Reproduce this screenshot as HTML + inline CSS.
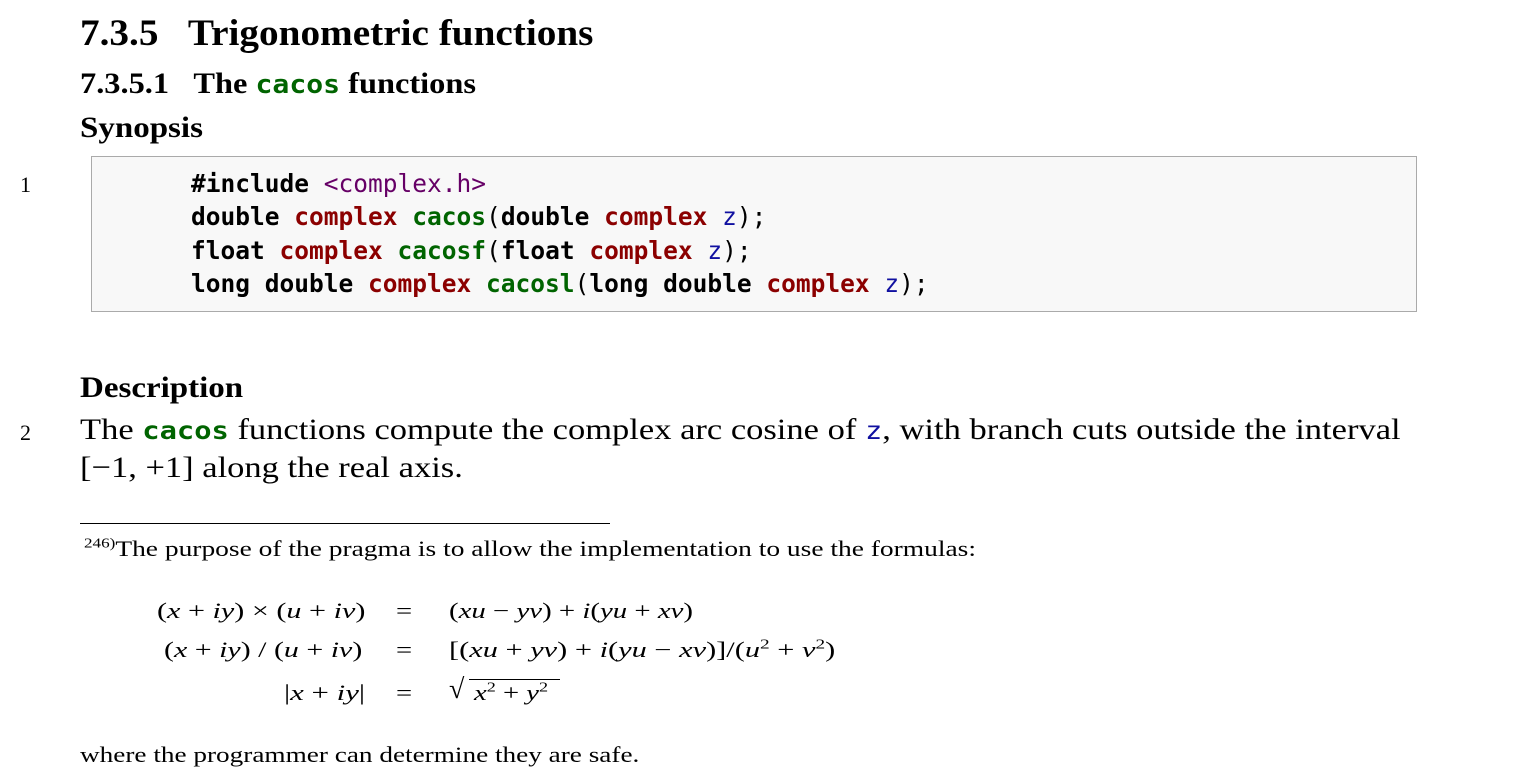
<!DOCTYPE html>
<html><head><meta charset="utf-8"><style>
body{margin:0;width:1519px;height:784px;background:#fff;position:relative;overflow:hidden;font-family:"Liberation Serif",serif;color:#000}
.a{position:absolute;white-space:nowrap;transform-origin:0 0}
.m{font-family:"DejaVu Sans Mono","Liberation Mono",monospace}
.code{position:absolute;left:91px;top:156px;width:1324px;height:154px;background:#f8f8f8;border:1px solid #aaa}
.code div{position:absolute;left:99px;font-family:"DejaVu Sans Mono",monospace;font-weight:bold;font-size:24.5px}
.r{color:#8b0000}.g{color:#006400}.p{color:#660066;font-weight:normal}.b{color:#1010a0;font-weight:normal}.n{font-weight:normal}
sup{font-size:14px}
</style></head><body>
<div class="a" style="left:80px;top:12px;font-size:37px;font-weight:bold;transform:scaleX(1.06)">7.3.5&nbsp;&nbsp;&nbsp;Trigonometric functions</div>
<div class="a" style="left:80px;top:67px;font-size:30px;font-weight:bold;transform:scaleX(1.08)">7.3.5.1&nbsp;&nbsp;&nbsp;The <span class="m g" style="font-size:26px">cacos</span> functions</div>
<div class="a" style="left:80px;top:111px;font-size:30px;font-weight:bold;transform:scaleX(1.1)">Synopsis</div>
<div class="a" style="left:20px;top:172px;font-size:22px">1</div>
<div class="code">
<div style="top:12px">#include <span class="p">&lt;complex.h&gt;</span></div>
<div style="top:45px">double <span class="r">complex</span> <span class="g">cacos</span><span class="n">(</span>double <span class="r">complex</span> <span class="b">z</span><span class="n">);</span></div>
<div style="top:79px">float <span class="r">complex</span> <span class="g">cacosf</span><span class="n">(</span>float <span class="r">complex</span> <span class="b">z</span><span class="n">);</span></div>
<div style="top:112px">long double <span class="r">complex</span> <span class="g">cacosl</span><span class="n">(</span>long double <span class="r">complex</span> <span class="b">z</span><span class="n">);</span></div>
</div>
<div class="a" style="left:80px;top:371px;font-size:30px;font-weight:bold;transform:scaleX(1.1)">Description</div>
<div class="a" style="left:20px;top:420px;font-size:22px">2</div>
<div class="a" style="left:80px;top:413px;font-size:30px;transform:scaleX(1.15)">The <span class="m g" style="font-weight:bold;font-size:25px">cacos</span> functions compute the complex arc cosine of <span class="m" style="color:#1010a0;font-size:25px">z</span>, with branch cuts outside the interval</div>
<div class="a" style="left:80px;top:451px;font-size:30px;transform:scaleX(1.15)">[−1, +1] along the real axis.</div>
<div class="a" style="left:80px;top:523px;width:530px;border-top:1.5px solid #000"></div>
<div class="a" style="left:84px;top:536px;font-size:22.5px;transform:scaleX(1.22)"><sup>246)</sup>The purpose of the pragma is to allow the implementation to use the formulas:</div>
<div class="a" style="left:157px;top:598px;font-size:22px;transform:scaleX(1.37)">(<i>x</i> + <i>iy</i>) × (<i>u</i> + <i>iv</i>)</div>
<div class="a" style="left:164px;top:637px;font-size:22px;transform:scaleX(1.36)">(<i>x</i> + <i>iy</i>) / (<i>u</i> + <i>iv</i>)</div>
<div class="a" style="left:284px;top:680px;font-size:22px;transform:scaleX(1.4)">|<i>x</i> + <i>iy</i>|</div>
<div class="a" style="left:396px;top:598px;font-size:22px;transform:scaleX(1.3)">=</div>
<div class="a" style="left:396px;top:637px;font-size:22px;transform:scaleX(1.3)">=</div>
<div class="a" style="left:396px;top:680px;font-size:22px;transform:scaleX(1.3)">=</div>
<div class="a" style="left:449px;top:598px;font-size:22px;transform:scaleX(1.31)">(<i>xu</i> − <i>yv</i>) + <i>i</i>(<i>yu</i> + <i>xv</i>)</div>
<div class="a" style="left:449px;top:637px;font-size:22px;transform:scaleX(1.38)">[(<i>xu</i> + <i>yv</i>) + <i>i</i>(<i>yu</i> − <i>xv</i>)]/(<i>u</i><sup>2</sup> + <i>v</i><sup>2</sup>)</div>
<div class="a" style="left:449px;top:674px;font-size:28px">√</div>
<div class="a" style="left:469px;top:679px;width:91px;border-top:1.3px solid #000"></div>
<div class="a" style="left:474px;top:680px;font-size:22px;transform:scaleX(1.3)"><i>x</i><sup>2</sup> + <i>y</i><sup>2</sup></div>
<div class="a" style="left:80px;top:742px;font-size:22.5px;transform:scaleX(1.21)">where the programmer can determine they are safe.</div>
</body></html>
